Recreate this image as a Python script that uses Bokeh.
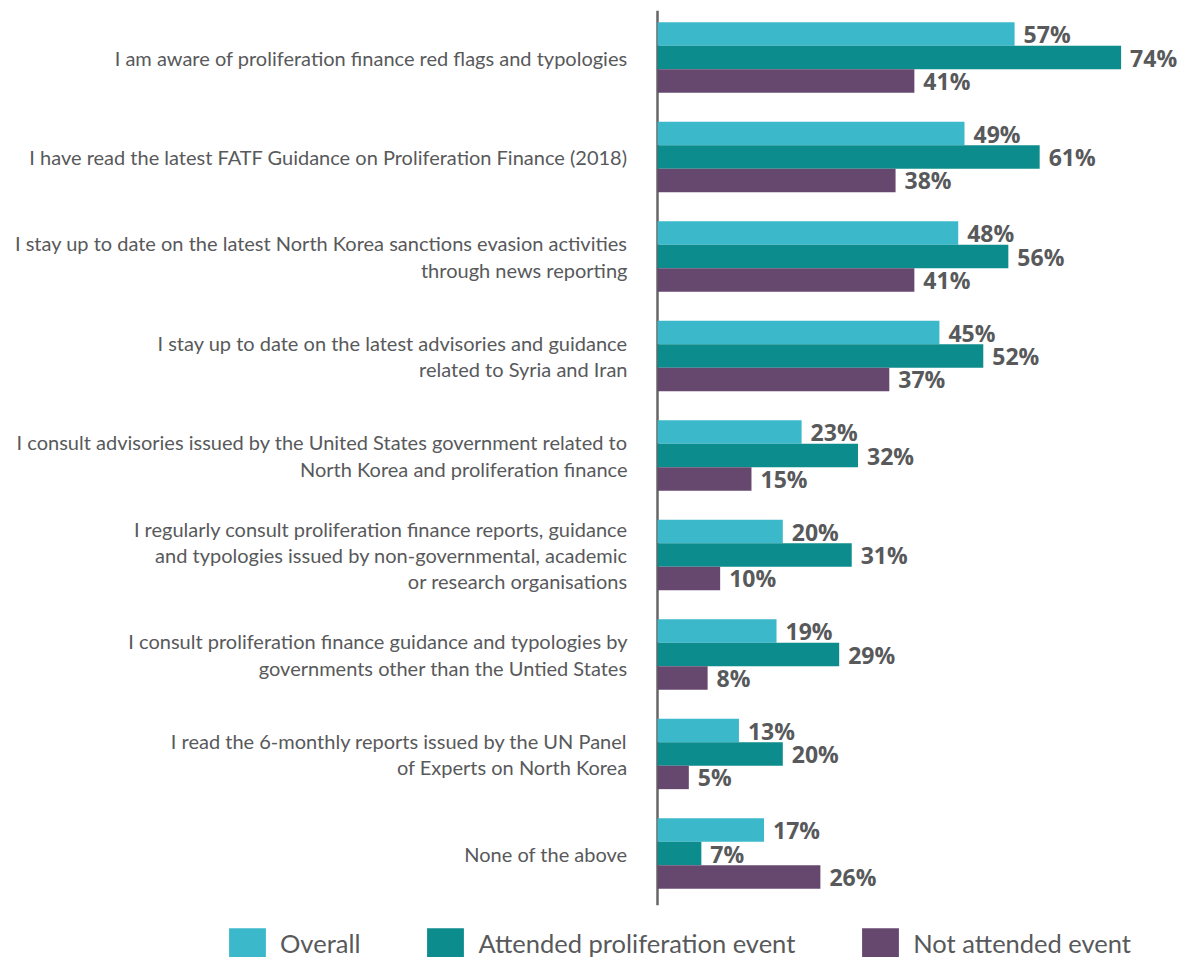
from bokeh.plotting import figure
from bokeh.models import Range1d, ColumnDataSource, Legend, LegendItem
from bokeh.transform import dodge
from bokeh.embed import file_html
from bokeh.resources import INLINE
from bokeh.core.properties import value

categories = [
    "I am aware of proliferation finance red flags and typologies",
    "I have read the latest FATF Guidance on Proliferation Finance (2018)",
    "I stay up to date on the latest North Korea sanctions evasion activities\nthrough news reporting",
    "I stay up to date on the latest advisories and guidance\nrelated to Syria and Iran",
    "I consult advisories issued by the United States government related to\nNorth Korea and proliferation finance",
    "I regularly consult proliferation finance reports, guidance\nand typologies issued by non-governmental, academic\nor research organisations",
    "I consult proliferation finance guidance and typologies by\ngovernments other than the Untied States",
    "I read the 6-monthly reports issued by the UN Panel\nof Experts on North Korea",
    "None of the above",
]
overall = [57, 49, 48, 45, 23, 20, 19, 13, 17]
attended = [74, 61, 56, 52, 32, 31, 29, 20, 7]
not_attended = [41, 38, 41, 37, 15, 10, 8, 5, 26]

series_names = ["Overall", "Attended proliferation event", "Not attended event"]
colors = ["#3bb9cb", "#0c8c8c", "#66486f"]

n = len(categories)
ypos = [n - 1 - i for i in range(n)]  # first category at the top

src = ColumnDataSource(dict(
    y=ypos, cat=categories,
    overall=overall, attended=attended, not_attended=not_attended,
    overall_lbl=[f"{v}%" for v in overall],
    attended_lbl=[f"{v}%" for v in attended],
    not_attended_lbl=[f"{v}%" for v in not_attended],
))

W, H = 1181, 957
px_per_unit = 6.265     # pixels per percentage point
zero_px = 657           # where 0% sits
row_px = 99.5           # pixels per category row
top_gap = 57            # from canvas top to first row centre

y_top = max(ypos) + top_gap / row_px
p = figure(
    width=W, height=H, output_backend="svg", toolbar_location=None,
    x_range=Range1d(-zero_px / px_per_unit, (W - zero_px) / px_per_unit),
    y_range=Range1d(y_top - H / row_px, y_top),
    min_border=0,
)
p.outline_line_color = None
p.grid.visible = False
p.axis.visible = False

# vertical axis line
p.segment(x0=[0], x1=[0], y0=[min(ypos) - 0.52], y1=[max(ypos) + 0.47],
          line_color="#666666", line_width=2.5)

# category labels
p.text(x=0, y="y", text="cat", source=src, x_offset=-30,
       text_align="right", text_baseline="middle",
       text_font=value("Lato"), text_font_size="20px",
       text_color="#58595b", text_line_height=1.1)

bh = 0.2355
fields = ["overall", "attended", "not_attended"]
offsets = [bh, 0.0, -bh]
renderers = []
for f, off, c in zip(fields, offsets, colors):
    r = p.hbar(y=dodge("y", off), right=f, left=0, height=bh,
               source=src, fill_color=c, line_color=None)
    renderers.append(r)
    p.text(x=f, y=dodge("y", off), text=f + "_lbl", source=src,
           x_offset=9, text_baseline="middle", text_align="left",
           text_font=value("Open Sans"), text_font_style="bold",
           text_font_size="23px", text_color="#58595b")

legend = Legend(
    items=[LegendItem(label=s, renderers=[r]) for s, r in zip(series_names, renderers)],
    orientation="horizontal", location=(224, -5),
    glyph_width=46, glyph_height=38, label_standoff=10, spacing=62,
    padding=0, margin=0, border_line_color=None, background_fill_alpha=0,
    label_text_font="Lato", label_text_font_size="25.5px", label_text_color="#58595b",
)
p.add_layout(legend, "center")

open("out.html", "w").write(file_html(p, INLINE))
